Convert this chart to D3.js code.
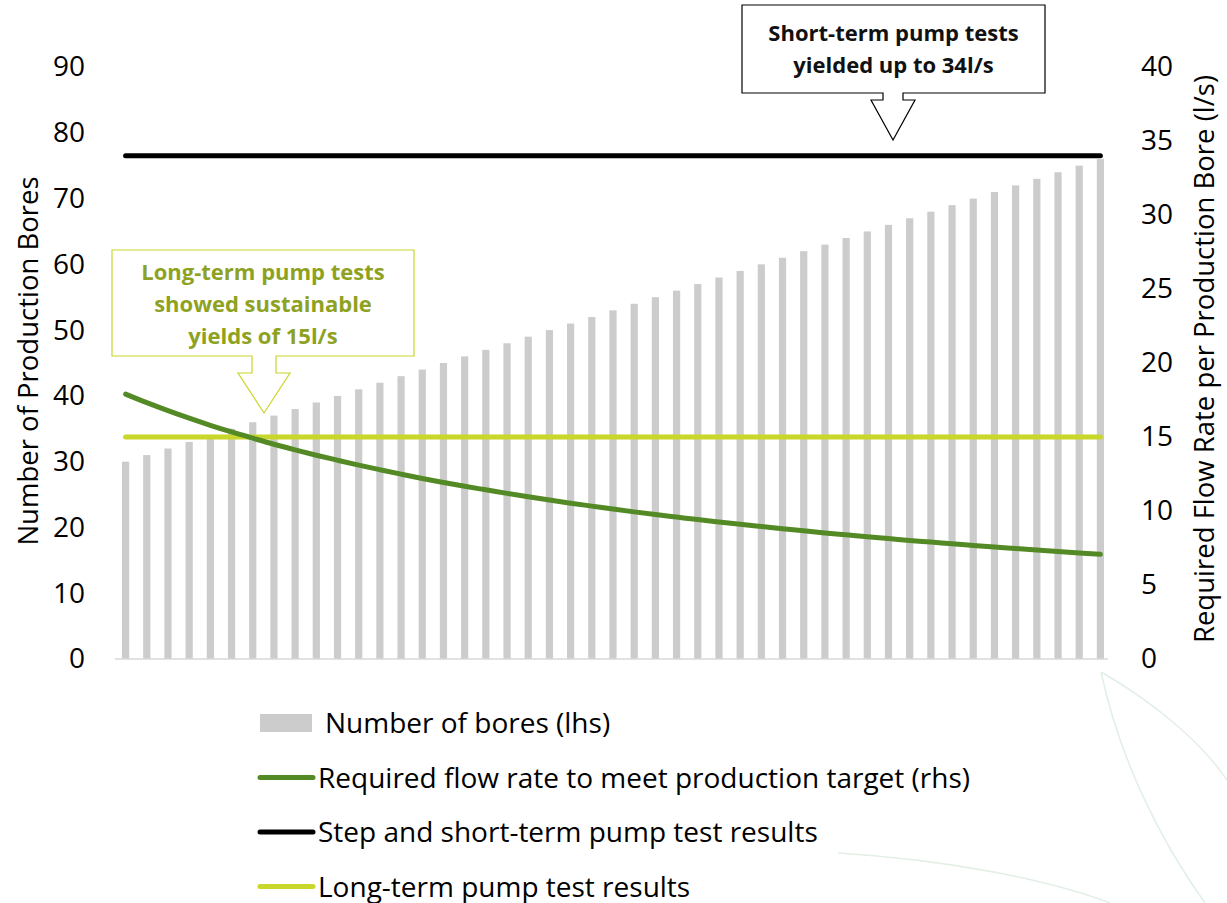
<!DOCTYPE html>
<html>
<head>
<meta charset="utf-8">
<script src="https://cdn.jsdelivr.net/npm/d3@7/dist/d3.min.js"></script>
<style>
  body { margin: 0; background: #fff; }
  text { font-family: "Open Sans", "Noto Sans", sans-serif; }
</style>
</head>
<body>
<script>
// bores count, one bar per scenario
var bores = [30,31,32,33,34,35,36,37,38,39,40,41,42,43,44,45,46,47,48,49,50,51,52,53,54,
  55,56,57,58,59,60,61,62,63,64,65,66,67,68,69,70,71,72,73,74,75,76];
// required flow per bore (l/s)
var flowRate = [17.9,17.32,16.78,16.27,15.79,15.34,14.92,14.51,14.13,13.77,13.43,13.1,12.79,
  12.49,12.2,11.93,11.67,11.43,11.19,10.96,10.74,10.53,10.33,10.13,9.94,9.76,9.59,9.42,9.26,
  9.1,8.95,8.8,8.66,8.52,8.39,8.26,8.14,8.01,7.9,7.78,7.67,7.56,7.46,7.36,7.26,7.16,7.07];
var shortTerm = 34;   // l/s
var longTerm = 15;    // l/s

var leftTicks = [0,10,20,30,40,50,60,70,80,90];
var rightTicks = [0,5,10,15,20,25,30,35,40];

var legendItems = [
  {label: "Number of bores (lhs)", type: "bar", color: "#cccccc"},
  {label: "Required flow rate to meet production target (rhs)", type: "line", color: "#548a26"},
  {label: "Step and short-term pump test results", type: "line", color: "#000000"},
  {label: "Long-term pump test results", type: "line", color: "#c9d62a"}
];

var W = 1227, H = 903;
var margin = {top: 67, left: 115, right: 116, bottom: 244};
var width = W - margin.left - margin.right,
    height = H - margin.top - margin.bottom;

var svg = d3.select("body").append("svg")
  .attr("width", W).attr("height", H);

// faint leaf outlines in the background
var leaf = svg.append("g").attr("fill", "none").attr("stroke", "#e2efe5").attr("stroke-width", 1.5);
leaf.append("path").attr("d", "M1101,672 C1120,760 1160,840 1205,903");
leaf.append("path").attr("d", "M1101,672 C1150,700 1200,740 1227,780");
leaf.append("path").attr("d", "M838,853 C950,860 1050,880 1110,903");

var g = svg.append("g").attr("transform", "translate(" + margin.left + "," + margin.top + ")");

var x = d3.scaleBand().domain(bores).range([0, width]).paddingInner(0.66).paddingOuter(0.33);
var yL = d3.scaleLinear().domain([0, 90]).range([height, 0]);
var yR = d3.scaleLinear().domain([0, 40]).range([height, 0]);

// bars
g.selectAll(".bar").data(bores).enter().append("rect")
  .attr("class", "bar")
  .attr("x", function(d) { return x(d); })
  .attr("width", x.bandwidth())
  .attr("y", function(d) { return yL(d); })
  .attr("height", function(d) { return height - yL(d); })
  .attr("fill", "#cccccc");

// baseline
g.append("line").attr("x1", 0).attr("x2", width - 3).attr("y1", height).attr("y2", height)
  .attr("stroke", "#d9d9d9").attr("stroke-width", 1.5);

function cx(d) { return x(d) + x.bandwidth() / 2; }

// flat test-result lines
function flatLine(val, color) {
  g.append("path")
    .datum(bores)
    .attr("d", d3.line().x(cx).y(function() { return yR(val); }))
    .attr("fill", "none").attr("stroke", color)
    .attr("stroke-width", 5).attr("stroke-linecap", "round");
}
flatLine(shortTerm, "#000000");
flatLine(longTerm, "#c9d62a");

// required flow curve
g.append("path")
  .datum(flowRate)
  .attr("d", d3.line().curve(d3.curveMonotoneX)
    .x(function(d, i) { return cx(bores[i]); })
    .y(function(d) { return yR(d); }))
  .attr("fill", "none").attr("stroke", "#548a26")
  .attr("stroke-width", 5).attr("stroke-linecap", "round");

// axes
var leftAxis = g.append("g").call(d3.axisLeft(yL).tickValues(leftTicks).tickSize(0).tickPadding(30));
var rightAxis = g.append("g").attr("transform", "translate(" + width + ",0)")
  .call(d3.axisRight(yR).tickValues(rightTicks).tickSize(0).tickPadding(30));
[leftAxis, rightAxis].forEach(function(a) {
  a.select(".domain").remove();
  a.selectAll("text").style("font-size", "28px").attr("fill", "#000")
    .style("font-family", "'Open Sans', sans-serif");
});

svg.append("text")
  .attr("transform", "translate(38," + (margin.top + yL(45) - 2) + ") rotate(-90)")
  .attr("text-anchor", "middle").style("font-size", "27.5px")
  .text("Number of Production Bores");
svg.append("text")
  .attr("transform", "translate(1214," + (margin.top + yR(20) - 4) + ") rotate(-90)")
  .attr("text-anchor", "middle").style("font-size", "27.5px")
  .text("Required Flow Rate per Production Bore (l/s)");

// callouts: box with a hollow arrow pointing down
function callout(box, arrow, lines, stroke, textColor) {
  var c = svg.append("g");
  var b = box, a = arrow;
  var pts = [
    [b.x, b.y], [b.x + b.w, b.y], [b.x + b.w, b.y + b.h],
    [a.cx + a.shaft, b.y + b.h], [a.cx + a.shaft, a.neck], [a.cx + a.head, a.neck],
    [a.cx, a.tip], [a.cx - a.head, a.neck], [a.cx - a.shaft, a.neck],
    [a.cx - a.shaft, b.y + b.h], [b.x, b.y + b.h]
  ];
  c.append("path").attr("d", "M" + pts.join("L") + "Z")
    .attr("fill", "#fff").attr("stroke", stroke).attr("stroke-width", 1.2);
  c.selectAll("text").data(lines).enter().append("text")
    .attr("x", b.x + b.w / 2)
    .attr("y", function(d, i) { return b.ty + i * b.lh; })
    .attr("text-anchor", "middle")
    .style("font-size", "22px").style("font-weight", "bold")
    .attr("fill", textColor)
    .text(function(d) { return d; });
}

callout({x: 742, y: 5, w: 303, h: 88, ty: 41, lh: 32},
  {cx: 893, shaft: 10, neck: 100, head: 22, tip: 140},
  ["Short-term pump tests", "yielded up to 34l/s"], "#000", "#111");

callout({x: 112, y: 250, w: 302, h: 106, ty: 280, lh: 32},
  {cx: 264, shaft: 12, neck: 373, head: 26, tip: 413},
  ["Long-term pump tests", "showed sustainable", "yields of 15l/s"], "#c9d62a", "#8ea21f");

// legend
var legend = svg.append("g").attr("transform", "translate(258,723)");
var rows = legend.selectAll(".lg").data(legendItems).enter().append("g")
  .attr("transform", function(d, i) { return "translate(0," + (i * 54.5) + ")"; });
rows.each(function(d) {
  var r = d3.select(this);
  if (d.type === "bar") {
    r.append("rect").attr("x", 2).attr("y", -9).attr("width", 52).attr("height", 18).attr("fill", d.color);
    r.append("text").attr("x", 67).attr("y", 10).style("font-size", "28px").text(d.label);
  } else {
    r.append("line").attr("x1", 2).attr("x2", 55).attr("y1", 0).attr("y2", 0)
      .attr("stroke", d.color).attr("stroke-width", 5).attr("stroke-linecap", "round");
    r.append("text").attr("x", 60).attr("y", 10).style("font-size", "28px").text(d.label);
  }
});
</script>
</body>
</html>
